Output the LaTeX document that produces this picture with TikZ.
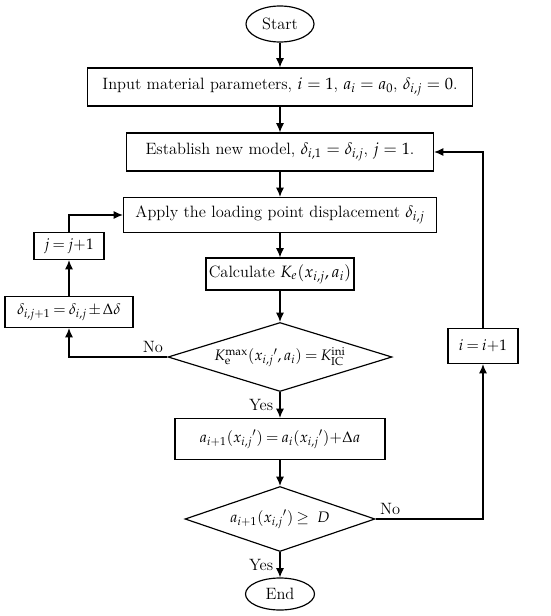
\documentclass[tikz,border=0pt]{standalone}
\usepackage{mathpazo}
\usetikzlibrary{shapes.geometric,arrows.meta}

\begin{document}
\begin{tikzpicture}[x=0.03cm,y=-0.03cm,font=\fontsize{14}{16}\selectfont,line width=1pt,
  box/.style={draw,inner sep=2pt},
  term/.style={draw,ellipse,inner sep=1pt},
  test/.style={draw,diamond,inner sep=0pt},
  tight/.style={font=\fontsize{13}{15}\selectfont,
    execute at begin node={\thickmuskip=3.5mu\medmuskip=2mu}},
  flow/.style={-{Latex[length=8pt,width=7pt]}}]
%
\def\px{0.03cm}
%
\useasboundingbox (0,0) rectangle (550,616);
%
\node[term,minimum width=68*\px,minimum height=36*\px] (start) at (280,24) {Start};
\node[box,minimum width=385*\px,minimum height=38*\px] (input) at (280,87)
  {Input material parameters, $i = 1$, $a_i = a_0$, $\delta_{i,j} = 0$.};
\node[box,minimum width=307*\px,minimum height=38*\px] (est) at (280,152)
  {Establish new model, $\delta_{i,1} = \delta_{i,j}$, $j = 1$.};
\node[box,minimum width=313*\px,minimum height=35*\px] (apply) at (280,215)
  {Apply the loading point displacement $\delta_{i,j}$};
\node[box,minimum width=148*\px,minimum height=32*\px] (calc) at (280,274)
  {Calculate $K_e(x_{i,j}, a_i)$};
\node[test,tight,minimum width=224*\px,minimum height=69*\px,aspect=3.2] (chk1) at (280,357)
  {$K_{\mathrm{e}}^{\max}({x_{i,j}}', a_i) = K_{\mathrm{IC}}^{\mathrm{ini}}$};
\node[box,tight,minimum width=210*\px,minimum height=41*\px] (grow) at (280,439)
  {$a_{i+1}({x_{i,j}}') = a_i({x_{i,j}}'){+}\Delta a$};
\node[test,tight,minimum width=190*\px,minimum height=65*\px,aspect=2.9] (chk2) at (280,519)
  {$a_{i+1}({x_{i,j}}') \geq\ D$};
\node[term,minimum width=69*\px,minimum height=32*\px] (end) at (280,594) {End};
%
\node[box,tight,minimum width=128*\px,minimum height=31*\px] (dstep) at (69,312)
  {$\delta_{i,j+1} = \delta_{i,j} \pm \Delta\delta$};
\node[box,tight,minimum width=70*\px,minimum height=27*\px] (jinc) at (69,246) {$j = j{+}1$};
\node[box,tight,minimum width=70*\px,minimum height=35*\px] (iinc) at (483,346) {$i = i{+}1$};
%
\draw[flow] (start) -- (input);
\draw[flow] (input) -- (est);
\draw[flow] (est) -- (apply);
\draw[flow] (apply) -- (calc);
\draw[flow] (calc) -- (chk1);
\draw[flow] (chk1) -- node[left=2pt]{Yes} (grow);
\draw[flow] (grow) -- (chk2);
\draw[flow] (chk2) -- node[left=2pt]{Yes} (end);
%
\draw[flow] (chk1.west) node[above left]{No} -| (dstep);
\draw[flow] (dstep) -- (jinc);
\draw[flow] (jinc) |- (apply);
%
\draw[flow] (chk2.east) node[above right]{No} -| (iinc);
\draw[flow] (iinc) |- (est);
%
\end{tikzpicture}
\end{document}
